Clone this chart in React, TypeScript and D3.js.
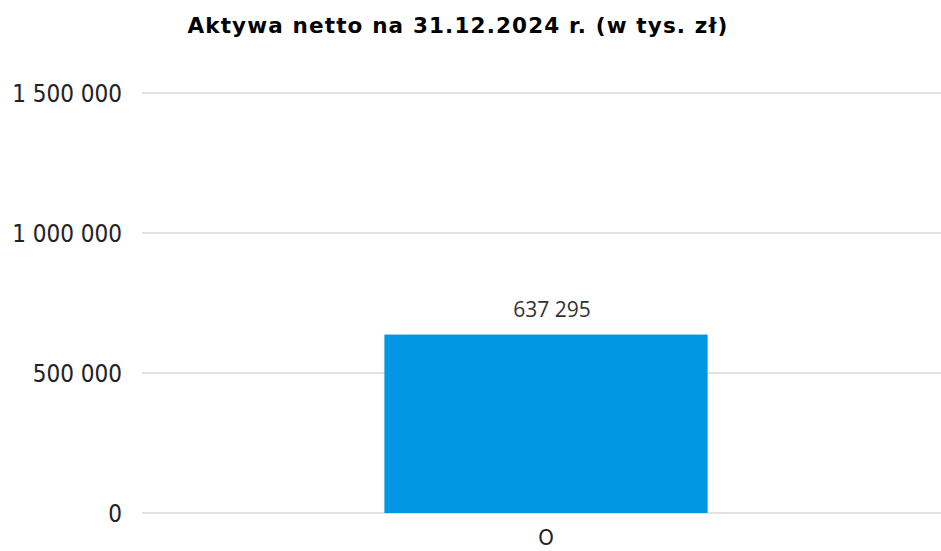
import React from "react";
import * as d3 from "d3";

const title = "Aktywa netto na 31.12.2024 r. (w tys. zł)";
const categories = ["O"];
const values = [637295];
const valueLabels = ["637 295"];
const yTicks = [0, 500000, 1000000, 1500000];
const yTickLabels = ["0", "500 000", "1 000 000", "1 500 000"];

const W = 941;
const H = 551;

export default function App() {
  const x = d3
    .scaleBand<string>()
    .domain(categories)
    .range([142, 950])
    .paddingInner(0.6)
    .paddingOuter(0.3);
  const y = d3.scaleLinear().domain([0, 1500000]).range([513, 93]);
  const axisFont = "'DejaVu Sans', sans-serif";
  return (
    <svg
      width={W}
      height={H}
      style={{ position: "absolute", left: 0, top: 0, background: "#fff" }}
    >
      <text
        x={458}
        y={33}
        textAnchor="middle"
        fontFamily={axisFont}
        fontWeight="bold"
        fontSize={21.5}
        letterSpacing={1.15}
        fill="#000"
      >
        {title}
      </text>
      {yTicks.map((t, i) => (
        <g key={t}>
          <line
            x1={142}
            x2={W}
            y1={y(t)}
            y2={y(t)}
            stroke="#d9d9d9"
            strokeWidth={1.5}
          />
          <text
            x={122}
            y={y(t) + 8.5}
            textAnchor="end"
            fontFamily={axisFont}
            fontSize={24}
            style={{ fontStretch: "condensed" }}
            fill="#222"
          >
            {yTickLabels[i]}
          </text>
        </g>
      ))}
      {categories.map((c, i) => (
        <g key={c}>
          <rect
            x={x(c)}
            y={y(values[i])}
            width={x.bandwidth()}
            height={y(0) - y(values[i])}
            fill="#0096e1"
          />
          <text
            x={(x(c) as number) + x.bandwidth() / 2 + 6}
            y={y(values[i]) - 18}
            textAnchor="middle"
            fontFamily="'Open Sans', sans-serif"
            fontSize={21}
            fill="#333"
          >
            {valueLabels[i]}
          </text>
          <text
            x={(x(c) as number) + x.bandwidth() / 2}
            y={545}
            textAnchor="middle"
            fontFamily={axisFont}
            fontSize={22}
            style={{ fontStretch: "condensed" }}
            fill="#222"
          >
            {c}
          </text>
        </g>
      ))}
    </svg>
  );
}
